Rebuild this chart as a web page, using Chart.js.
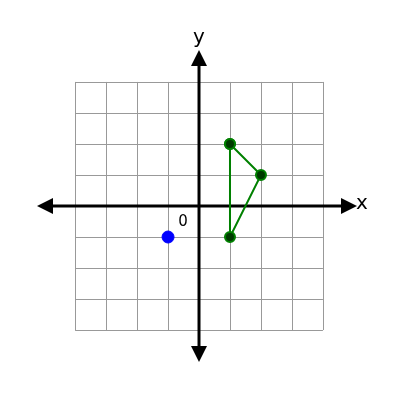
<!DOCTYPE html>
<html><head><script src="https://cdn.jsdelivr.net/npm/chart.js@4"></script>
<style>body{margin:0;background:#fff}#w{width:400px;height:400px}</style></head>
<body><div id="w"><canvas id="c"></canvas></div>
<script>
const gridTicks=[-4,-3,-2,-1,0,1,2,3,4];
const triX=[1,2,1,1];
const triY=[2,1,-1,2];
const blueX=[-1];
const blueY=[-1];
const gridPlugin={id:'g',beforeDatasetsDraw(ch){
 const c=ch.ctx,x=ch.scales.x,y=ch.scales.y;
 c.save();c.strokeStyle='#999';c.lineWidth=1;
 const x0=x.getPixelForValue(-4),x1=x.getPixelForValue(4),y0=y.getPixelForValue(4),y1=y.getPixelForValue(-4);
 gridTicks.forEach(t=>{const px=Math.round(x.getPixelForValue(t))+0.5,py=Math.round(y.getPixelForValue(t))+0.5;
  c.beginPath();c.moveTo(px,y0);c.lineTo(px,y1);c.stroke();
  c.beginPath();c.moveTo(x0,py);c.lineTo(x1,py);c.stroke();});
 const ox=x.getPixelForValue(0),oy=y.getPixelForValue(0);
 const L=ch.chartArea;
 c.strokeStyle='#000';c.fillStyle='#000';c.lineWidth=3;
 c.beginPath();c.moveTo(L.left+10,oy);c.lineTo(L.right-10,oy);c.stroke();
 c.beginPath();c.moveTo(ox,L.top+10);c.lineTo(ox,L.bottom-10);c.stroke();
 const tri=(pts)=>{c.beginPath();c.moveTo(...pts[0]);c.lineTo(...pts[1]);c.lineTo(...pts[2]);c.closePath();c.fill();};
 tri([[L.left,oy],[L.left+16,oy-8],[L.left+16,oy+8]]);
 tri([[L.right,oy],[L.right-16,oy-8],[L.right-16,oy+8]]);
 tri([[ox,L.top],[ox-8,L.top+16],[ox+8,L.top+16]]);
 tri([[ox,L.bottom],[ox-8,L.bottom-16],[ox+8,L.bottom-16]]);
 c.font='20px "DejaVu Sans"';c.textAlign='center';c.textBaseline='middle';
 c.fillText('x',L.right+5,oy-2);c.fillText('y',ox,L.top-12);
 c.font='15px "DejaVu Sans"';c.fillText('0',ox-16,oy+16);
 c.restore();}};
new Chart(document.getElementById('c'),{type:'scatter',
 data:{datasets:[
  {data:triX.map((v,i)=>({x:v,y:triY[i]})),showLine:true,borderColor:'green',borderWidth:2,pointRadius:5,pointBorderWidth:2,pointBorderColor:'green',pointBackgroundColor:'#003a00'},
  {data:blueX.map((v,i)=>({x:v,y:blueY[i]})),pointRadius:6,pointBackgroundColor:'blue',pointBorderColor:'blue'}]},
 options:{responsive:true,maintainAspectRatio:false,animation:false,
  layout:{padding:{left:37,right:43,top:50,bottom:38}},
  plugins:{legend:{display:false},tooltip:{enabled:false}},
  scales:{x:{display:false,min:-5.23,max:5.1},y:{display:false,min:-5.03,max:5.03}}},
 plugins:[gridPlugin]});
</script></body></html>
